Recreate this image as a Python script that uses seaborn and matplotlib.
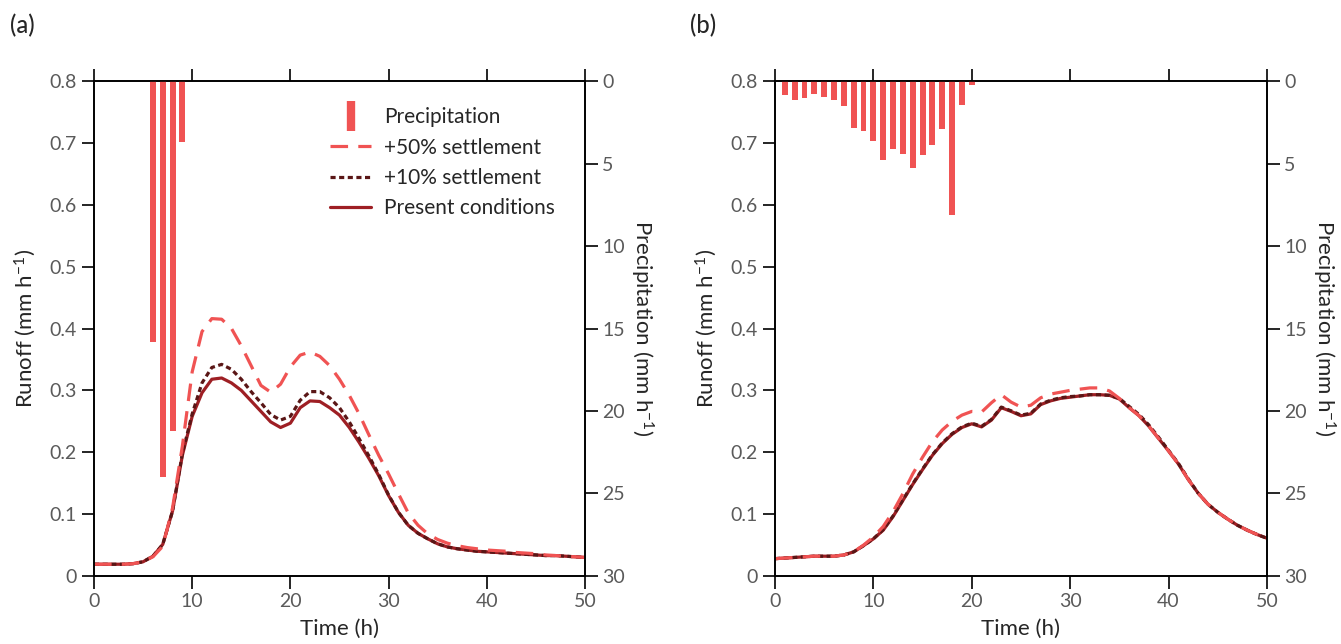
import numpy as np
import pandas as pd
import matplotlib
matplotlib.use("Agg")
import matplotlib.pyplot as plt
from matplotlib.lines import Line2D
import seaborn as sns

# ---------------- data ----------------
hours = list(range(0, 51))

# (a) short intense storm
precip_a_hours = [6, 7, 8, 9]
precip_a = [15.8, 24.0, 21.2, 3.7]

present_a = [0.019, 0.019, 0.019, 0.019, 0.020, 0.023, 0.032, 0.051, 0.105, 0.195,
             0.258, 0.296, 0.318, 0.320, 0.312, 0.300, 0.283, 0.266, 0.249, 0.240,
             0.247, 0.272, 0.283, 0.282, 0.272, 0.260, 0.240, 0.216, 0.190, 0.162,
             0.130, 0.103, 0.082, 0.069, 0.060, 0.052, 0.047, 0.044, 0.042, 0.040,
             0.039, 0.038, 0.037, 0.036, 0.035, 0.034, 0.033, 0.033, 0.032, 0.031,
             0.030]
settle10_a = [0.019, 0.019, 0.019, 0.019, 0.020, 0.023, 0.032, 0.051, 0.105, 0.198,
              0.262, 0.312, 0.337, 0.342, 0.334, 0.318, 0.298, 0.280, 0.261, 0.252,
              0.258, 0.284, 0.298, 0.298, 0.288, 0.272, 0.249, 0.222, 0.194, 0.164,
              0.131, 0.103, 0.082, 0.069, 0.060, 0.052, 0.047, 0.044, 0.042, 0.040,
              0.039, 0.038, 0.037, 0.036, 0.035, 0.034, 0.033, 0.033, 0.032, 0.031,
              0.030]
settle50_a = [0.019, 0.019, 0.019, 0.019, 0.020, 0.023, 0.031, 0.048, 0.110, 0.210,
              0.330, 0.395, 0.416, 0.415, 0.400, 0.372, 0.340, 0.308, 0.297, 0.310,
              0.338, 0.357, 0.362, 0.355, 0.340, 0.318, 0.292, 0.262, 0.228, 0.195,
              0.165, 0.133, 0.102, 0.082, 0.068, 0.059, 0.053, 0.049, 0.046, 0.044,
              0.042, 0.041, 0.040, 0.038, 0.037, 0.036, 0.034, 0.033, 0.032, 0.031,
              0.030]

# (b) long moderate storm
precip_b_hours = list(range(1, 21))
precip_b = [0.85, 1.17, 1.0, 0.77, 0.97, 1.13, 1.54, 2.83, 3.05, 3.64,
            4.77, 4.1, 4.4, 5.25, 4.5, 3.9, 2.89, 8.14, 1.43, 0.24]

present_b = [0.028, 0.029, 0.030, 0.031, 0.032, 0.032, 0.032, 0.034, 0.039, 0.049,
             0.060, 0.074, 0.096, 0.122, 0.148, 0.172, 0.195, 0.214, 0.229, 0.240,
             0.246, 0.241, 0.252, 0.272, 0.266, 0.259, 0.262, 0.277, 0.283, 0.287,
             0.289, 0.291, 0.293, 0.293, 0.292, 0.286, 0.272, 0.259, 0.242, 0.222,
             0.202, 0.181, 0.156, 0.134, 0.116, 0.103, 0.092, 0.082, 0.074, 0.067,
             0.061]
settle10_b = [0.028, 0.029, 0.030, 0.031, 0.032, 0.032, 0.032, 0.034, 0.039, 0.049,
              0.060, 0.075, 0.097, 0.123, 0.149, 0.173, 0.196, 0.215, 0.230, 0.241,
              0.247, 0.242, 0.253, 0.273, 0.267, 0.260, 0.263, 0.278, 0.284, 0.288,
              0.290, 0.291, 0.293, 0.293, 0.292, 0.287, 0.274, 0.261, 0.244, 0.224,
              0.203, 0.182, 0.157, 0.134, 0.116, 0.103, 0.092, 0.082, 0.074, 0.067,
              0.061]
settle50_b = [0.028, 0.029, 0.030, 0.031, 0.032, 0.032, 0.032, 0.034, 0.039, 0.050,
              0.063, 0.080, 0.104, 0.133, 0.165, 0.192, 0.217, 0.236, 0.250, 0.260,
              0.266, 0.265, 0.280, 0.293, 0.281, 0.273, 0.276, 0.288, 0.294, 0.297,
              0.300, 0.302, 0.304, 0.304, 0.299, 0.287, 0.272, 0.259, 0.242, 0.222,
              0.202, 0.181, 0.156, 0.134, 0.116, 0.103, 0.092, 0.082, 0.074, 0.067,
              0.061]

runoff_ticks = [0, 0.1, 0.2, 0.3, 0.4, 0.5, 0.6, 0.7, 0.8]
runoff_ticklabels = ["0", "0.1", "0.2", "0.3", "0.4", "0.5", "0.6", "0.7", "0.8"]
precip_ticks = [0, 5, 10, 15, 20, 25, 30]
time_ticks = [0, 10, 20, 30, 40, 50]

series_labels = ["Precipitation", "+50% settlement", "+10% settlement", "Present conditions"]
panel_labels = ["(a)", "(b)"]

# ---------------- style ----------------
sns.set_style("ticks")
plt.rcParams["font.family"] = ["Lato", "DejaVu Sans"]
plt.rcParams["mathtext.fontset"] = "custom"
plt.rcParams["mathtext.rm"] = "Lato"
plt.rcParams["mathtext.it"] = "Lato:italic"
plt.rcParams["axes.linewidth"] = 1.2

C_RAIN = "#f05353"
C_PRESENT = "#9e1f24"
C_S10 = "#5a1616"

DASH_50 = (0, (5.5, 3.2))
DOT_10 = (0, (1.6, 1.1))

fig = plt.figure(figsize=(13.41, 6.44), dpi=100)
positions = [[0.0701, 0.1056, 0.3661, 0.7686], [0.5779, 0.1056, 0.3669, 0.7686]]

panels = [
    (precip_a_hours, precip_a, present_a, settle10_a, settle50_a),
    (precip_b_hours, precip_b, present_b, settle10_b, settle50_b),
]

tick_kw = dict(direction="out", length=9, width=1.2, labelsize=14,
               labelcolor="#5a5a5a", color="black")

for i, (ph, pv, pres, s10, s50) in enumerate(panels):
    ax = fig.add_axes(positions[i])
    df = pd.DataFrame({"t": hours, "present": pres, "s10": s10, "s50": s50})

    sns.lineplot(data=df, x="t", y="present", ax=ax, color=C_PRESENT,
                 linewidth=2.3, linestyle="-")
    sns.lineplot(data=df, x="t", y="s10", ax=ax, color=C_S10,
                 linewidth=2.3, linestyle=DOT_10)
    sns.lineplot(data=df, x="t", y="s50", ax=ax, color=C_RAIN,
                 linewidth=2.3, linestyle=DASH_50)

    ax.set_xlim(0, 50)
    ax.set_ylim(0, 0.8)
    ax.set_xticks(time_ticks)
    ax.set_yticks(runoff_ticks)
    ax.set_yticklabels(runoff_ticklabels)
    ax.set_xlabel("Time (h)", fontsize=16, labelpad=6)
    ax.set_ylabel("Runoff (mm h$^{-1}$)", fontsize=16, labelpad=8)
    for s in ax.spines.values():
        s.set_visible(True)
        s.set_color("black")

    # precipitation hanging from the top on a reversed secondary axis
    ax2 = ax.twinx()
    pdf = pd.DataFrame({"hour": ph, "rain": pv})
    sns.barplot(data=pdf, x="hour", y="rain", ax=ax2, native_scale=True,
                color=C_RAIN, saturation=1, width=0.6, errorbar=None,
                linewidth=0)
    ax2.set_ylim(30, 0)
    ax2.set_yticks(precip_ticks)
    ax2.set_xlim(0, 50)
    ax2.set_xlabel("")
    ax2.set_ylabel("Precipitation (mm h$^{-1}$)", fontsize=16, rotation=-90,
                   labelpad=22)
    for s in ax2.spines.values():
        s.set_color("black")

    ax.tick_params(axis="x", top=True, labeltop=False, **tick_kw)
    ax.tick_params(axis="y", **tick_kw)
    ax2.tick_params(axis="y", **tick_kw)

    if i == 0:
        handles = [
            Line2D([], [], color=C_RAIN, marker="|", linestyle="None",
                   markersize=22, markeredgewidth=6),
            Line2D([], [], color=C_RAIN, linewidth=2.3, linestyle=DASH_50),
            Line2D([], [], color=C_S10, linewidth=2.3, linestyle=DOT_10),
            Line2D([], [], color=C_PRESENT, linewidth=2.3),
        ]
        ax2.legend(handles, series_labels, loc="upper left",
                   bbox_to_anchor=(0.442, 0.985), frameon=False, fontsize=15,
                   handlelength=2.0, handletextpad=0.6, labelspacing=0.5)

    fig.text(positions[i][0] - 0.063, 0.978, panel_labels[i], fontsize=17,
             fontweight="medium", va="top", ha="left")

fig.savefig("out.png", dpi=100)
